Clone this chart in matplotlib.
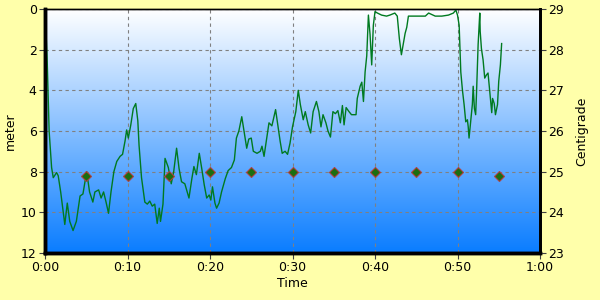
import numpy as np
import matplotlib
matplotlib.use("Agg")
import matplotlib.pyplot as plt
from matplotlib.colors import LinearSegmentedColormap
from matplotlib.ticker import FuncFormatter, MultipleLocator

# dive profile, minutes vs meters
time = [0.12, 0.28, 0.5, 0.8, 1.0, 1.4, 1.6, 1.9, 2.4, 2.7, 3.0, 3.4, 3.8, 4.25, 4.6, 4.85,
        5.05, 5.4, 5.8, 6.05, 6.5, 6.8, 7.1, 7.4, 7.7, 8.0, 8.35, 8.7, 9.1, 9.4, 9.7, 9.9,
        10.1, 10.4, 10.7, 11.0, 11.25, 11.4, 11.7, 12.1, 12.4, 12.7, 13.0, 13.3, 13.6, 13.85,
        14.0, 14.3, 14.55, 14.95, 15.3, 15.6, 15.95, 16.25, 16.55, 16.95, 17.45, 17.8, 18.05,
        18.35, 18.7, 19.0, 19.3, 19.6, 19.9, 20.1, 20.3, 20.6, 20.8, 21.1, 21.4, 21.85, 22.2,
        22.6, 22.95, 23.2, 23.5, 23.85, 24.2, 24.45, 24.7, 25.0, 25.25, 25.7, 26.1, 26.3,
        26.55, 26.9, 27.15, 27.5, 27.95, 28.3, 28.5, 28.75, 29.1, 29.4, 29.7, 30.0, 30.4,
        30.7, 30.95, 31.3, 31.55, 31.9, 32.2, 32.5, 32.9, 33.2, 33.45, 33.7, 34.05, 34.3,
        34.6, 34.9, 35.2, 35.5, 35.8, 36.05, 36.25, 36.5, 36.85, 37.15, 37.7, 37.85, 38.2,
        38.4, 38.6, 38.8, 39.0, 39.2, 39.4, 39.6, 39.8, 40.0, 40.3, 40.8, 41.4, 41.8, 42.4,
        42.7, 42.95, 43.2, 43.45, 43.65, 43.85, 44.05, 44.45, 44.9, 45.4, 46.1, 46.5, 47.3,
        48.1, 48.9, 49.5, 49.8, 50.0, 50.2, 50.4, 50.6, 50.8, 51.0, 51.2, 51.3, 51.4, 51.6,
        51.8, 51.9, 52.05, 52.2, 52.3, 52.5, 52.7, 52.75, 52.9, 53.1, 53.3, 53.5, 53.7, 53.9,
        54.15, 54.25, 54.45, 54.6, 54.85, 55.0, 55.2, 55.35]
depth = [1.08, 2.75, 6.0, 7.8, 8.3, 8.05, 8.2, 9.0, 10.6, 9.55, 10.45, 10.9, 10.45, 9.2, 9.1, 8.5,
         8.0, 9.0, 9.5, 9.0, 8.9, 9.3, 9.0, 9.5, 10.05, 9.0, 8.0, 7.5, 7.25, 7.15, 6.5, 5.95,
         6.35, 5.7, 4.9, 4.65, 5.5, 6.7, 8.3, 9.5, 9.6, 9.45, 9.7, 9.6, 10.55, 9.8,
         10.45, 9.6, 7.35, 7.8, 8.6, 8.0, 6.85, 7.85, 8.5, 8.6, 9.3, 8.35, 7.75,
         8.15, 7.1, 7.85, 8.65, 9.3, 9.15, 9.4, 8.75, 9.55, 9.8, 9.55, 9.0, 8.35, 7.95,
         7.8, 7.43, 6.35, 6.0, 5.3, 6.2, 6.85, 6.4, 6.35, 7.0, 7.1, 7.0, 6.75,
         7.25, 6.3, 5.6, 5.75, 4.95, 5.95, 6.5, 7.1, 7.0, 7.15, 6.6, 5.8, 5.05,
         4.0, 4.7, 5.45, 5.05, 5.7, 6.1, 5.05, 4.55, 5.05, 5.8, 5.2, 5.6, 6.0,
         6.3, 5.05, 5.15, 5.0, 5.6, 4.75, 5.7, 4.85, 5.05, 5.2, 5.2, 4.4, 3.8,
         3.6, 4.55, 3.1, 2.3, 0.3, 1.25, 2.75, 0.8, 0.13, 0.2, 0.3, 0.35, 0.3, 0.2,
         0.35, 1.45, 2.25, 1.65, 1.2, 0.9, 0.35, 0.35, 0.35, 0.35, 0.35, 0.2, 0.35,
         0.35, 0.3, 0.2, 0.05, 0.3, 0.8, 3.1, 4.0, 4.7, 5.55, 5.45, 5.8, 6.35, 5.55,
         4.7, 3.8, 4.9, 5.2, 4.2, 1.75, 0.2, 1.1, 1.95, 2.5, 3.4, 3.25, 3.15, 4.0,
         5.1, 4.4, 4.65, 5.2, 4.7, 3.55, 2.75, 1.7]

# water temperature samples
temp_time = [5, 10, 15, 20, 25, 30, 35, 40, 45, 50, 55]
temp = [24.9, 24.9, 24.9, 25.0, 25.0, 25.0, 25.0, 25.0, 25.0, 25.0, 24.9]

bg = '#ffffaa'
fig = plt.figure(figsize=(6, 3), dpi=100, facecolor=bg)
ax = fig.add_axes([0.075, 0.157, 0.825, 0.813])

# white -> blue gradient behind the plot
cmap = LinearSegmentedColormap.from_list('sea', ['#ffffff', '#0a7dff'])
grad = np.linspace(0, 1, 256).reshape(-1, 1)
ax.imshow(grad, cmap=cmap, extent=[0, 60, 12, 0], aspect='auto', zorder=0)

ax.plot(time, depth, color='#007a20', lw=1, zorder=3)
ax.set_xlim(0, 60)
ax.set_ylim(12, 0)
ax.xaxis.set_major_locator(MultipleLocator(10))
ax.yaxis.set_major_locator(MultipleLocator(2))
ax.xaxis.set_major_formatter(FuncFormatter(lambda v, p: f"{int(v // 60)}:{int(v % 60):02d}"))
ax.grid(True, color='#808080', ls=(0, (3, 3)), lw=0.8, zorder=1)
ax.set_xlabel('Time', fontsize=9, labelpad=2)
ax.set_ylabel('meter', fontsize=9, labelpad=3)
ax.tick_params(labelsize=9, length=4, width=0.8, color='#404040', pad=2)

ax2 = ax.twinx()
ax2.plot(temp_time, temp, ls='none', marker='D', ms=5, mfc='#1a6e10',
         mec='#b04040', mew=0.8, zorder=4)
ax2.set_ylim(23, 29)
ax2.yaxis.set_major_locator(MultipleLocator(1))
ax2.set_ylabel('Centigrade', fontsize=9, labelpad=8)
ax2.tick_params(labelsize=9, length=4, width=0.8, color='#404040', pad=2)

for a in (ax, ax2):
    a.spines['left'].set_linewidth(2.5)
    a.spines['bottom'].set_linewidth(2.5)
    a.spines['right'].set_linewidth(2)
    a.spines['top'].set_linewidth(1)

fig.savefig('out.png', dpi=100, facecolor=bg)
